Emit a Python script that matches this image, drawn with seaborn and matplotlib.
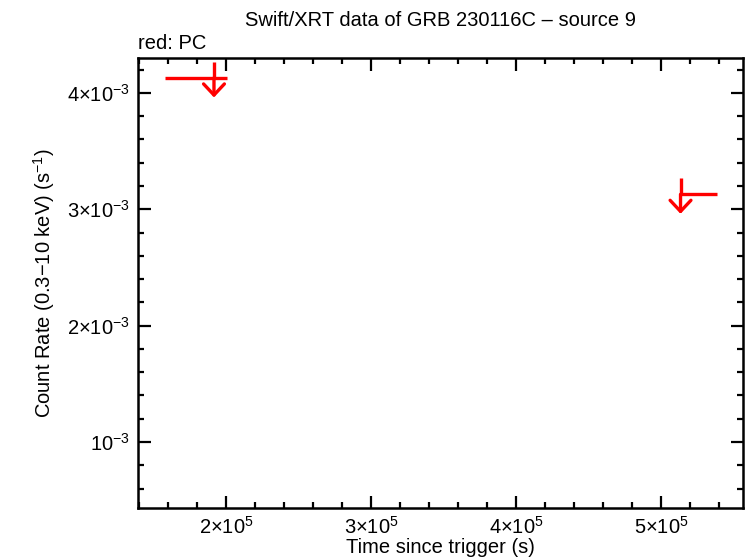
import matplotlib
matplotlib.use('Agg')
import matplotlib.pyplot as plt
from matplotlib.ticker import MultipleLocator, FuncFormatter
import seaborn as sns

# upper limits (PC mode)
ul_time = [1.917e5, 5.135e5]
ul_start = [1.579e5, 5.140e5]
ul_stop = [2.007e5, 5.386e5]
ul_rate = [4.129e-3, 3.129e-3]
ul_span = [0.14e-3, 0.14e-3]   # how far the arrow sticks out above / below

sns.set_style("ticks", {'axes.edgecolor': 'black', 'xtick.color': 'black',
                        'ytick.color': 'black', 'text.color': 'black',
                        'axes.labelcolor': 'black'})
plt.rcParams['font.family'] = ['Liberation Sans', 'DejaVu Sans']
plt.rcParams['mathtext.fontset'] = 'custom'
plt.rcParams['mathtext.rm'] = 'Liberation Sans'
plt.rcParams['mathtext.it'] = 'Liberation Sans'

fig = plt.figure(figsize=(7.46, 5.58), dpi=100)
ax = fig.add_axes([0.185, 0.0896, 0.811, 0.8064])

red = '#ff0000'
for t, a, b, r, s in zip(ul_time, ul_start, ul_stop, ul_rate, ul_span):
    ax.hlines(r, a, b, color=red, lw=2.4)
    ax.plot([t, t], [r + s, r], color=red, lw=2.4, solid_capstyle='butt')
    ax.annotate('', xy=(t, r - s * 1.2), xytext=(t, r),
                arrowprops=dict(arrowstyle='->,head_length=0.8,head_width=0.75',
                                color=red, lw=2.4, shrinkA=0, shrinkB=0))

ax.set_xlim(1.393e5, 5.566e5)
ax.set_ylim(0.433e-3, 4.30e-3)

ax.xaxis.set_major_locator(MultipleLocator(1e5))
ax.xaxis.set_minor_locator(MultipleLocator(2e4))
ax.yaxis.set_major_locator(MultipleLocator(1e-3))
ax.yaxis.set_minor_locator(MultipleLocator(2e-4))


def sci_fmt(v, pos):
    if v <= 0:
        return ''
    e = int(f"{v:e}".split('e')[1])
    m = round(v / 10 ** e)
    if m == 1:
        return r'$10^{%d}$' % e
    return r'$%d{\times}10^{%d}$' % (m, e)


ax.xaxis.set_major_formatter(FuncFormatter(sci_fmt))
ax.yaxis.set_major_formatter(FuncFormatter(sci_fmt))

ax.tick_params(which='both', direction='in', top=True, right=True, width=1.6,
               labelsize=14.5, pad=6, colors='black')
ax.tick_params(which='major', length=9)
ax.tick_params(which='minor', length=4.5)
for sp in ax.spines.values():
    sp.set_linewidth(1.8)
    sp.set_color('black')

ax.set_xlabel('Time since trigger (s)', fontsize=14.5, labelpad=0)
ax.set_ylabel(r'Count Rate (0.3$-$10 keV) (s$^{-1}$)', fontsize=14.5, labelpad=7)
ax.set_title('Swift/XRT data of GRB 230116C \u2013 source 9', fontsize=14.5, pad=23)
ax.text(0.0, 1.012, 'red: PC', transform=ax.transAxes, fontsize=14.5,
        ha='left', va='bottom')

fig.savefig('out.png', dpi=100)
